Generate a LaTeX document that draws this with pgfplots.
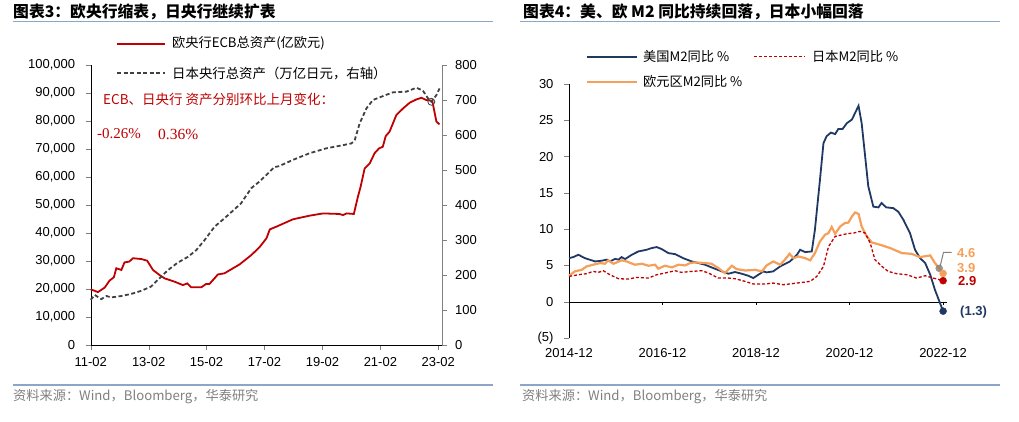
\documentclass[border=0pt]{standalone}
\usepackage{pgfplots}
\pgfplotsset{compat=1.18}
\usepackage{fontspec}
\setmainfont{Liberation Sans}
\newfontfamily\cjk{Noto Sans CJK SC}
\newfontfamily\serif{Liberation Serif}
\definecolor{ecbred}{RGB}{192,0,0}
\definecolor{bojgray}{RGB}{64,64,64}
\definecolor{usnavy}{RGB}{31,56,100}
\definecolor{jpred}{RGB}{192,0,0}
\definecolor{euorange}{RGB}{245,160,90}
\definecolor{rulecol}{RGB}{140,165,200}
\definecolor{srcgray}{RGB}{128,128,128}
\pgfplotsset{every tick label/.append style={font=\fontsize{13}{13}\selectfont},
  /pgf/number format/assume math mode=true}
\begin{document}
\begin{tikzpicture}[x=1pt,y=1pt]
\useasboundingbox (0,0) rectangle (1019,-421);
% titles and rules
\node[anchor=west,inner sep=0] at (13,-11.5) {\cjk\bfseries\fontsize{15.8}{15.8}\selectfont 图表3：欧央行缩表，日央行继续扩表};
\node[anchor=west,inner sep=0] at (523,-11.5) {\cjk\bfseries\fontsize{15.8}{15.8}\selectfont 图表4：美、欧 M2 同比持续回落，日本小幅回落};
\draw[rulecol,line width=1.2pt] (13,-21.7) -- (493,-21.7);
\draw[rulecol,line width=1.2pt] (520,-21.7) -- (1000,-21.7);
\draw[rulecol,line width=1.2pt] (13,-385) -- (493,-385);
\draw[rulecol,line width=1.2pt] (520,-385) -- (1000,-385);
\node[anchor=west,inner sep=0,text=srcgray] at (13,-397) {\cjk\fontsize{13.2}{13.2}\selectfont 资料来源：Wind，Bloomberg，华泰研究};
\node[anchor=west,inner sep=0,text=srcgray] at (522,-397) {\cjk\fontsize{13.2}{13.2}\selectfont 资料来源：Wind，Bloomberg，华泰研究};

% ---------- left panel ----------
\begin{axis}[at={(90.7pt,-345pt)}, anchor=south west, scale only axis,
  width=351pt, height=280pt, xmin=0, xmax=145.4, ymin=0, ymax=100000,
  axis x line*=bottom, axis y line*=left, tick align=outside,
  major tick length=5pt,
  xtick={0,24,48,72,96,120,144},
  xticklabels={11-02,13-02,15-02,17-02,19-02,21-02,23-02},
  xticklabel style={yshift=-4pt},
  ytick={0,10000,...,100000}, scaled y ticks=false,
  yticklabel style={xshift=-7pt,/pgf/number format/.cd,fixed,1000 sep={,}},
  clip=false]
\addplot[ecbred, line width=1.8pt] coordinates {
(0,19900)(3,18900)(5.8,20500)(7.8,23000)(9.6,24200)(10.6,27400)(12.7,26800)
(14,29500)(16,29800)(17.5,31000)(21,30700)(23.4,30100)(25.8,26800)(28.5,25000)
(30.6,23800)(34.8,22600)(38.2,21400)(40,22000)(41.6,20600)(45.8,20600)(47.8,21800)
(49.2,21800)(52.7,25200)(55.4,25600)(61.7,28800)(66.5,32100)(69.9,34900)(72.8,38100)
(74.2,41300)(77,42300)(83.8,44900)(90.7,46200)(96.3,47000)(103,46800)(104.5,46400)
(106,47000)(109,46800)(110.7,53000)(111.8,56500)(113.5,63100)(115.6,64900)(117.6,68500)
(119.4,70200)(121,70800)(122.2,74600)(123.8,76200)(126.6,82100)(129.4,84500)(132.1,86500)
(134.9,87700)(137,88300)(139,87500)(141.5,87200)(143.2,79800)(144.5,78800)};
\end{axis}
\begin{axis}[at={(90.7pt,-345pt)}, anchor=south west, scale only axis,
  width=351pt, height=280pt, xmin=0, xmax=145.4, ymin=0, ymax=800,
  axis x line=none, axis y line*=right, tick align=outside,
  major tick length=5pt, ytick={0,100,...,800},
  yticklabel style={xshift=5pt},
  y axis line style={draw=gray}, ytick style={draw=gray}, clip=false]
\addplot[bojgray, line width=1.8pt, dash pattern=on 4pt off 2.5pt] coordinates {
(0,129)(1.7,143)(4.4,131)(6.5,140)(8.5,136)(12.7,140)(16.8,146)(21,155)(25,167)
(27.8,186)(32,214)(36,235)(40.3,252)(43.7,271)(47.2,300)(51.3,338)(55.4,362)(59.6,388)
(62.3,405)(66.5,448)(69.9,467)(73.4,490)(76,508)(78,511)(83.8,529)(90.7,548)(97.6,562)
(104.5,571)(108,576)(109.4,586)(111.4,633)(114.2,676)(116.9,700)(121,711)(125.2,722)
(130.8,724)(134.9,735)(137.6,727)(139.7,705)(141.1,695)(143.2,714)(144.5,733)};
\addplot[only marks, mark=o, mark size=3.5pt, bojgray, line width=0.8pt] coordinates {(141.1,695)};
\end{axis}
% left legend and notes
\draw[ecbred,line width=2pt] (117,-43.5) -- (165,-43.5);
\node[anchor=west,inner sep=0] at (172,-43.5) {\cjk\fontsize{13.2}{13.2}\selectfont 欧央行ECB总资产(亿欧元)};
\draw[bojgray,line width=2pt,dash pattern=on 4pt off 2.5pt] (117,-73.3) -- (165,-73.3);
\node[anchor=west,inner sep=0] at (172,-73.3) {\cjk\fontsize{13.4}{13.4}\selectfont 日本央行总资产（万亿日元，右轴）};
\node[anchor=west,inner sep=0,text=ecbred] at (103,-99.5) {\cjk\fontsize{13.5}{13.5}\selectfont ECB、日央行 资产分别环比上月变化：};
\node[anchor=west,inner sep=0,text=ecbred] at (97,-134) {\serif\fontsize{15}{15}\selectfont -0.26\%};
\node[anchor=west,inner sep=0,text=ecbred] at (158,-134) {\serif\fontsize{15.5}{15.5}\selectfont 0.36\%};

% ---------- right panel ----------
\begin{axis}[at={(569pt,-338pt)}, anchor=south west, scale only axis,
  width=378pt, height=254pt, xmin=0, xmax=97, ymin=-5, ymax=30,
  axis x line*=bottom, axis y line*=left, tick align=outside,
  major tick length=5pt,
  x axis line style={draw=none}, xtick style={draw=none},
  xtick={0,24,48,72,96},
  xticklabels={2014-12,2016-12,2018-12,2020-12,2022-12},
  xticklabel style={yshift=-2pt},
  ytick={-5,0,5,10,15,20,25,30},
  yticklabels={(5),0,5,10,15,20,25,30},
  yticklabel style={xshift=-7pt},
  clip=false]
\draw[black] (axis cs:0,0) -- (axis cs:97,0);
\pgfplotsinvokeforeach{24,48,72,96}{\draw[black] (axis cs:#1,0) -- ++(0pt,-3pt);}
\addplot[usnavy, line width=1.8pt] coordinates {
(0,6.0)(1.1,6.15)(2.4,6.47)(4.1,6.0)(6.7,5.55)(8.4,5.65)(9.7,5.8)(10.5,5.55)(11.8,5.9)
(12.7,5.8)(13.5,6.15)(14.4,5.88)(16.1,6.47)(17.8,6.93)(19.9,7.16)(21.2,7.39)(22.5,7.53)
(23.8,7.25)(25.5,6.7)(27.2,6.56)(29.3,6.0)(31.5,5.55)(33.2,5.33)(34.9,5.1)(37,4.64)
(39.2,4.18)(40.9,3.86)(42.6,4.09)(44.3,3.86)(46,3.58)(47.3,3.26)(48.6,3.72)(49.9,4.18)
(50.7,4.04)(52.4,4.18)(54.2,4.87)(56.7,5.55)(58.5,6.47)(59.3,7.16)(60.6,6.84)(62.3,6.93)
(63.1,9.9)(64.4,16.8)(65.3,21.85)(66.1,22.8)(67.2,23.3)(68.3,23.1)(69.1,23.8)(70.2,23.8)
(71.3,24.6)(72.6,25.1)(74.3,27.0)(75.1,24.6)(76,20.0)(76.8,15.9)(78.1,13.1)(79.4,13.0)
(80.2,13.6)(81.4,13.0)(83.2,12.9)(84.5,12.4)(85.8,11.3)(87.5,9.46)(88.8,7.16)(90.1,6.0)
(91.4,5.33)(92.7,3.72)(93.9,1.65)(96,-1.3)};
\addplot[euorange, line width=2.2pt] coordinates {
(0,3.58)(1.5,4.18)(3.3,4.4)(4.5,4.87)(6.2,5.1)(8,5.33)(9.2,5.23)(10.1,5.7)(11.4,5.23)
(13.5,5.7)(14.8,5.55)(16.9,5.1)(18.7,5.23)(20.4,4.96)(22.1,5.1)(22.9,4.55)(24.6,4.96)
(26.4,4.73)(28.1,5.1)(29.8,5.0)(31.1,5.33)(32.3,5.42)(34.9,5.33)(36.6,5.23)(38.3,4.64)
(40,3.95)(41.8,4.96)(43,4.5)(45.2,4.3)(47.7,4.4)(49.5,4.18)(50.7,5.0)(52.4,5.55)
(54.2,5.1)(55.4,5.79)(56.6,6.6)(57.6,6.0)(58.9,6.24)(60.6,6.0)(61.9,5.7)(63.1,6.7)
(64.4,8.3)(65.7,9.23)(66.6,9.46)(67.4,10.3)(68.3,9.37)(69.6,10.37)(70.8,10.84)(71.7,10.9)
(72.6,11.75)(73.4,12.3)(74.3,12.1)(75.1,10.37)(76.4,9.0)(77.7,8.17)(79.8,7.85)(82.4,7.4)
(85.4,6.7)(87.9,6.6)(90.1,6.15)(92.7,6.38)(93.9,5.33)(95,4.6)(96,3.9)};
\addplot[jpred, line width=1.3pt, dash pattern=on 3pt off 2pt] coordinates {
(0,3.49)(2.4,3.72)(4.5,3.86)(6.2,4.18)(7.5,4.04)(8.8,4.27)(10.5,3.72)(12.7,3.17)(15.2,3.12)
(17.4,3.35)(20.4,3.26)(22.5,3.72)(24.6,3.95)(27.2,4.27)(28.9,4.04)(31.5,4.18)(34.1,4.27)
(35.8,3.95)(38.3,3.26)(40.9,3.26)(42.6,3.17)(45.2,2.8)(47.3,2.44)(50.3,2.44)(52.4,2.57)
(55,2.34)(58.5,2.57)(61.9,2.8)(63.6,3.49)(65.3,4.87)(66.6,7.6)(68.3,9.0)(71.3,9.37)
(73,9.46)(74.7,9.69)(76,9.46)(77.3,8.08)(78.5,5.79)(80.3,4.87)(81.9,4.18)(84.1,3.86)
(86.7,3.72)(89.2,3.26)(91.4,3.58)(93.5,3.26)(96,2.9)};
\draw[gray,line width=1pt] (axis cs:95.2,4.8) -- (axis cs:96.1,6.8) -- (axis cs:98.2,6.8);
\addplot[only marks, mark=*, mark size=3.5pt, draw=gray, fill=gray!80!brown, opacity=0.8] coordinates {(95,4.6)};
\addplot[only marks, mark=*, mark size=3.5pt, euorange] coordinates {(96,3.9)};
\addplot[only marks, mark=*, mark size=3.5pt, jpred] coordinates {(96,2.9)};
\addplot[only marks, mark=*, mark size=3.5pt, usnavy] coordinates {(96,-1.3)};
\end{axis}
\node[anchor=west,inner sep=0,text=euorange] at (957,-253) {\bfseries\fontsize{13}{13}\selectfont 4.6};
\node[anchor=west,inner sep=0,text=euorange] at (957,-268.5) {\bfseries\fontsize{13}{13}\selectfont 3.9};
\node[anchor=west,inner sep=0,text=jpred] at (958,-281.5) {\bfseries\fontsize{13}{13}\selectfont 2.9};
\node[anchor=west,inner sep=0,text=usnavy] at (960,-311.7) {\bfseries\fontsize{13}{13}\selectfont (1.3)};
% right legend
\draw[usnavy,line width=2pt] (587,-56.7) -- (637,-56.7);
\node[anchor=west,inner sep=0] at (643,-56.7) {\cjk\fontsize{13.2}{13.2}\selectfont 美国M2同比 \%};
\draw[jpred,line width=1.3pt,dash pattern=on 3pt off 2pt] (754,-56.7) -- (805,-56.7);
\node[anchor=west,inner sep=0] at (812,-56.7) {\cjk\fontsize{13.2}{13.2}\selectfont 日本M2同比 \%};
\draw[euorange,line width=2.2pt] (587,-81.7) -- (637,-81.7);
\node[anchor=west,inner sep=0] at (643,-81.7) {\cjk\fontsize{13.2}{13.2}\selectfont 欧元区M2同比 \%};
\end{tikzpicture}
\end{document}
